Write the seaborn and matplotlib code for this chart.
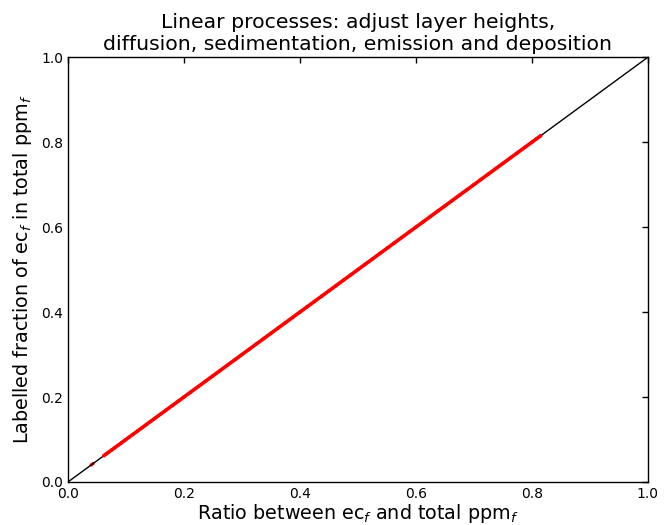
import matplotlib
matplotlib.use("Agg")
import matplotlib.pyplot as plt
import seaborn as sns
import pandas as pd

# points: they all sit on the 1:1 line
ratio = [0.040, 0.043, 0.062, 0.066, 0.070, 0.075, 0.080, 0.086, 0.092, 0.098,
         0.105, 0.112, 0.120, 0.128, 0.135, 0.143, 0.150, 0.160, 0.170, 0.180,
         0.190, 0.200, 0.212, 0.225, 0.238, 0.250, 0.262, 0.275, 0.288, 0.300,
         0.312, 0.325, 0.338, 0.350, 0.362, 0.375, 0.388, 0.400, 0.412, 0.425,
         0.438, 0.450, 0.462, 0.475, 0.488, 0.500, 0.512, 0.525, 0.538, 0.550,
         0.562, 0.575, 0.588, 0.600, 0.612, 0.625, 0.638, 0.650, 0.662, 0.675,
         0.688, 0.700, 0.712, 0.725, 0.738, 0.750, 0.762, 0.775, 0.788, 0.800,
         0.808, 0.815]
labelled = list(ratio)
one_to_one = [0.0, 1.0]

ticks = [0.0, 0.2, 0.4, 0.6, 0.8, 1.0]
tick_labels = ["0.0", "0.2", "0.4", "0.6", "0.8", "1.0"]

sns.set_style("white")
plt.rcParams["font.family"] = ["DejaVu Sans"]
plt.rcParams["text.color"] = "black"
plt.rcParams["axes.labelcolor"] = "black"
plt.rcParams["xtick.color"] = "black"
plt.rcParams["ytick.color"] = "black"
plt.rcParams["xtick.direction"] = "in"
plt.rcParams["ytick.direction"] = "in"
plt.rcParams["xtick.top"] = True
plt.rcParams["ytick.right"] = True
plt.rcParams["xtick.major.size"] = 4
plt.rcParams["ytick.major.size"] = 4

fig, ax = plt.subplots(figsize=(6.7, 5.25), dpi=100)
fig.subplots_adjust(left=0.1015, right=0.967, top=0.891, bottom=0.082)

sns.lineplot(x=one_to_one, y=one_to_one, color="black", linewidth=1, ax=ax)

df = pd.DataFrame({"ratio": ratio, "labelled": labelled})
sns.lineplot(data=df[df["ratio"] > 0.06], x="ratio", y="labelled", color="red",
             linewidth=2.6, sort=True, ax=ax)
sns.scatterplot(data=df, x="ratio", y="labelled", color="red", s=6,
                edgecolor="none", ax=ax)

ax.set_xlim(0, 1)
ax.set_ylim(0, 1)
ax.set_xticks(ticks)
ax.set_xticklabels(tick_labels)
ax.set_yticks(ticks)
ax.set_yticklabels(tick_labels)
ax.tick_params(labelsize=10, width=1, color="black", labelcolor="black")
for s in ax.spines.values():
    s.set_color("black")
    s.set_linewidth(1)

ax.set_xlabel(r"Ratio between ec$_f$ and total ppm$_f$", fontsize=13.8, labelpad=1)
ax.set_ylabel(r"Labelled fraction of ec$_f$ in total ppm$_f$", fontsize=13.8, labelpad=5)
ax.set_title("Linear processes: adjust layer heights,\n"
             "diffusion, sedimentation, emission and deposition",
             fontsize=14.7, pad=5)

fig.savefig("out.png", dpi=100)
